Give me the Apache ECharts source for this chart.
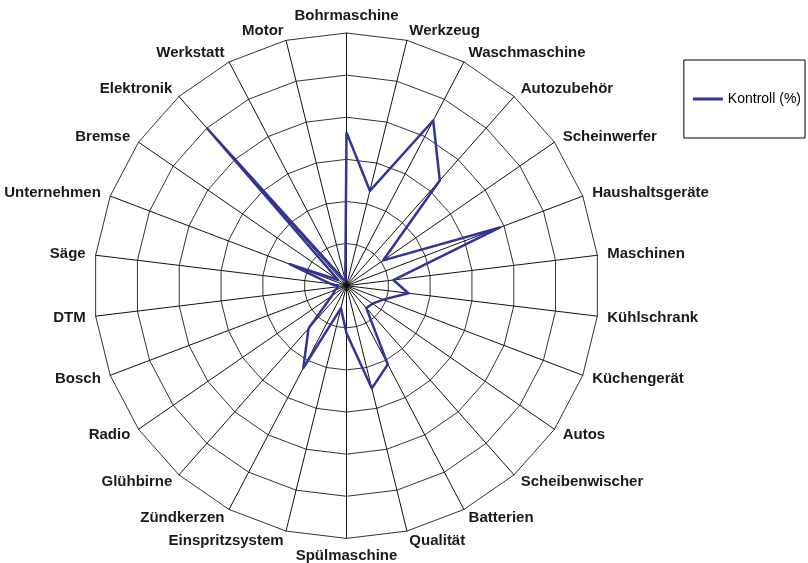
<!DOCTYPE html>
<html>
<head>
<meta charset="utf-8">
<script src="https://cdn.jsdelivr.net/npm/echarts@6/dist/echarts.min.js"></script>
<style>
  html, body { margin: 0; padding: 0; background: #ffffff; }
  #chart { width: 808px; height: 563px; }
</style>
</head>
<body>
<div id="chart"></div>
<script>
// Categories, clockwise from the top
const categories = [
  'Bohrmaschine', 'Werkzeug', 'Waschmaschine', 'Autozubehör', 'Scheinwerfer',
  'Haushaltsgeräte', 'Maschinen', 'Kühlschrank', 'Küchengerät', 'Autos',
  'Scheibenwischer', 'Batterien', 'Qualität', 'Spülmaschine', 'Einspritzsystem',
  'Zündkerzen', 'Glühbirne', 'Radio', 'Bosch', 'DTM', 'Säge', 'Unternehmen',
  'Bremse', 'Elektronik', 'Werkstatt', 'Motor'
];

// Share per category (%)
const kontroll = [
  36.4, 23.2, 44.3, 33.4, 10.6,
  39.0, 11.2, 14.8, 9.3, 7.5,
  7.1, 21.1, 25.1, 11.3, 5.5,
  22.1, 13.6, 4.2, 2.9, 1.9, 3.8, 14.4,
  2.4, 49.7, 1.9, 1.2
];

const seriesName = 'Kontroll (%)';
const axisMax = 60;

// ECharts lays radar indicators out counter-clockwise; keep the first
// category on top and reverse the rest so the order runs clockwise.
const order = [0].concat(categories.map((_, i) => i).slice(1).reverse());
const radarNames = order.map(i => categories[i]);
const radarValues = order.map(i => kontroll[i]);

const chart = echarts.init(document.getElementById('chart'), null, { renderer: 'canvas' });

chart.setOption({
  animation: false,
  backgroundColor: '#ffffff',
  legend: {
    data: [seriesName],
    right: 3,
    top: 60,
    orient: 'vertical',
    padding: [32, 4, 32, 9],
    borderColor: '#000000',
    borderWidth: 1,
    borderRadius: 0,
    icon: 'rect',
    itemWidth: 30,
    itemHeight: 3,
    itemGap: 4,
    textStyle: {
      fontFamily: 'Liberation Sans, Arial, sans-serif',
      fontSize: 14,
      color: '#000000'
    }
  },
  radar: {
    center: [346.5, 285.7],
    radius: 252.7,
    startAngle: 90,
    shape: 'polygon',
    splitNumber: 6,
    indicator: radarNames.map(name => ({ name: name, min: 0, max: axisMax })),
    nameGap: 10,
    axisName: {
      color: '#1a1a1a',
      fontFamily: 'Liberation Sans, Arial, sans-serif',
      fontWeight: 'bold',
      fontSize: 15
    },
    axisLine: { show: true, lineStyle: { color: '#111111', width: 1 } },
    splitLine: { show: true, lineStyle: { color: '#333333', width: 1 } },
    splitArea: { show: false },
    axisTick: { show: false },
    axisLabel: { show: false }
  },
  series: [{
    name: seriesName,
    type: 'radar',
    symbol: 'none',
    lineStyle: { color: '#333399', width: 2.5 },
    itemStyle: { color: '#333399' },
    data: [{ value: radarValues, name: seriesName }]
  }]
});
</script>
</body>
</html>
